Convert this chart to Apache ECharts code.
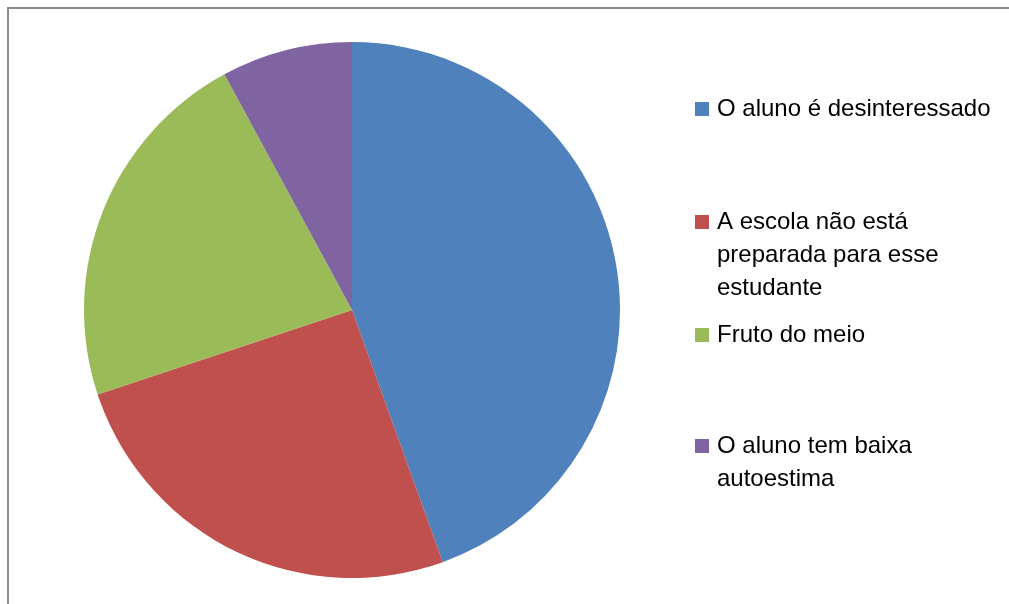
<!DOCTYPE html>
<html>
<head>
<meta charset="utf-8">
<script src="https://cdn.jsdelivr.net/npm/echarts@6/dist/echarts.min.js"></script>
<style>
  html, body { margin: 0; padding: 0; background: #fff; }
  #chart { width: 1009px; height: 604px; }
</style>
</head>
<body>
<div id="chart"></div>
<script>
// Reasons given for the student's situation (share of answers, %)
const categories = [
  'O aluno é desinteressado',
  'A escola não está\npreparada para esse\nestudante',
  'Fruto do meio',
  'O aluno tem baixa\nautoestima'
];
const values = [44.5, 25.4, 22.2, 7.9];
const colors = ['#4F81BD', '#C0504D', '#9BBB59', '#8064A2'];

const LINE_H = 33;
const ICON = 14;
// vertical centre of each legend marker
const legendCenters = [109, 222, 335, 446];

const legends = categories.map((name, i) => {
  const lines = name.split('\n').length;
  // blank lines in front keep the first text line level with the marker
  const total = 2 * lines - 1;
  return {
    data: [name],
    orient: 'vertical',
    left: 695,
    top: legendCenters[i] - total * LINE_H / 2,
    padding: 0,
    itemWidth: ICON,
    itemHeight: ICON,
    icon: 'rect',
    selectedMode: false,
    formatter: (n) => '\n'.repeat(lines - 1) + n,
    textStyle: {
      fontFamily: 'Liberation Sans, Arial, sans-serif',
      fontSize: 24,
      color: '#000',
      lineHeight: LINE_H,
      padding: [0, 0, 0, 3]
    }
  };
});

const chart = echarts.init(document.getElementById('chart'), null, { renderer: 'canvas' });
chart.setOption({
  animation: false,
  color: colors,
  graphic: [{
    type: 'rect',
    shape: { x: 8, y: 8, width: 1100, height: 700 },
    style: { fill: 'none', stroke: '#8a8a8a', lineWidth: 2 },
    silent: true,
    z: -1
  }],
  legend: legends,
  series: [{
    type: 'pie',
    center: [352, 310],
    radius: 268,
    startAngle: 90,
    clockwise: true,
    label: { show: false },
    labelLine: { show: false },
    itemStyle: { borderWidth: 0 },
    emphasis: { disabled: true },
    data: categories.map((name, i) => ({ name, value: values[i] }))
  }]
});
</script>
</body>
</html>
